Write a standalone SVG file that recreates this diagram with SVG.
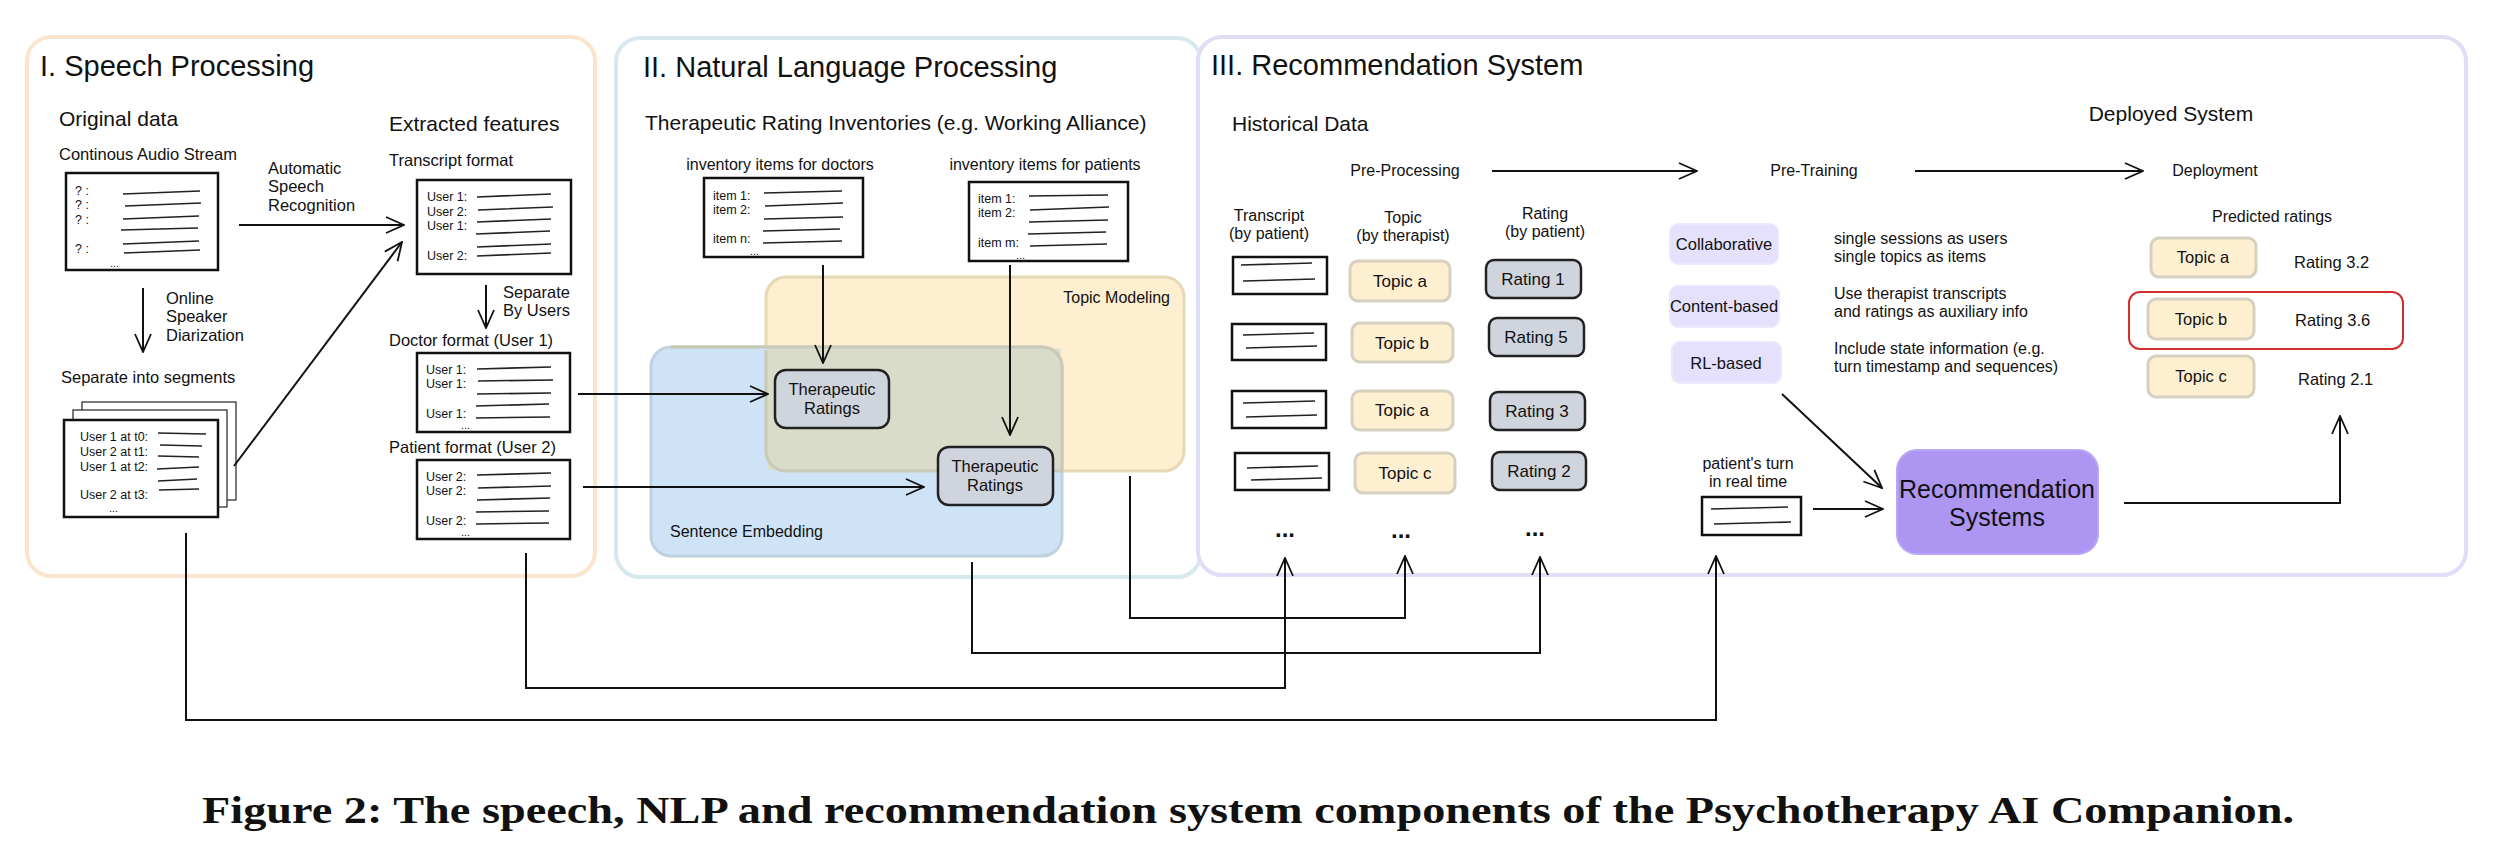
<svg xmlns="http://www.w3.org/2000/svg" width="2498" height="854" viewBox="0 0 2498 854">
<style>
text{font-family:"Liberation Sans",Arial,sans-serif;fill:#111}
.panel{fill:#fff;stroke-width:4}
.doc{fill:#fff;stroke:#111;stroke-width:2.5}
.sk{stroke:#222;stroke-width:1.6;fill:none}
.ca{stroke:#111;stroke-width:2;fill:none;marker-end:url(#ah)}
.topic{fill:#fdefcf;stroke:#d6d0c0;stroke-width:3}
.rate{fill:#d0d4dc;stroke:#222;stroke-width:2.5}
.meth{fill:#e5e0fb;stroke:#ebe7fc;stroke-width:2}
.s13{font-size:12.5px}.s14{font-size:16px}.s15{font-size:16.5px}.s16{font-size:17px}.s20{font-size:21px}.s28{font-size:29px}
.m{text-anchor:middle}
.cap{font-family:"Liberation Serif","Times New Roman",serif;font-weight:bold;font-size:38px}
</style>
<defs>
<marker id="ah" viewBox="0 0 20 20" refX="19" refY="10" markerWidth="20" markerHeight="20" markerUnits="userSpaceOnUse" orient="auto">
<path d="M1,2 L19,10 L1,18" fill="none" stroke="#111" stroke-width="1.8"/>
</marker>
</defs>
<rect width="2498" height="854" fill="#fff"/>

<g id="panel-speech">
<rect class="panel" x="27" y="37" width="568" height="539" rx="24" stroke="#fbe5cc"/>
<text x="40" y="76" class="s28">I. Speech Processing</text>
<text x="59" y="126" class="s20">Original data</text>
<text x="389" y="131" class="s20">Extracted features</text>
<text x="59" y="160" class="s15">Continous Audio Stream</text>
<rect class="doc" x="66" y="173" width="152" height="97"/>
<g class="s13"><text x="75" y="195">? :</text><text x="75" y="209">? :</text><text x="75" y="224">? :</text><text x="75" y="253">? :</text><text x="110" y="267" font-size="11">...</text></g>
<path class="sk" d="M123,194 L200,191 M125,206 L201,203 M123,219 L199,216 M121,230 L198,228 M123,244 L199,241 M124,253 L200,250"/>
<text class="s15" x="268" y="174">Automatic</text><text class="s15" x="268" y="192">Speech</text><text class="s15" x="268" y="211">Recognition</text>
<text class="s15" x="166" y="304">Online</text><text class="s15" x="166" y="322">Speaker</text><text class="s15" x="166" y="341">Diarization</text>
<text x="61" y="383" class="s15">Separate into segments</text>
<rect x="82" y="402" width="154" height="98" fill="#fff" stroke="#333" stroke-width="1.3"/>
<rect x="73" y="410" width="154" height="97" fill="#fff" stroke="#333" stroke-width="1.3"/>
<rect class="doc" x="64" y="420" width="154" height="97"/>
<g class="s13"><text x="80" y="441">User 1 at t0:</text><text x="80" y="456">User 2 at t1:</text><text x="80" y="471">User 1 at t2:</text><text x="80" y="499">User 2 at t3:</text></g>
<text x="109" y="512" font-size="11">...</text>
<path class="sk" d="M158,433 L206,434 M160,445 L202,446 M158,456 L199,457 M157,469 L199,467 M158,481 L197,479 M159,490 L199,489"/>
<text x="389" y="166" class="s15">Transcript format</text>
<rect class="doc" x="417" y="180" width="154" height="94"/>
<g class="s13"><text x="427" y="201">User 1:</text><text x="427" y="216">User 2:</text><text x="427" y="230">User 1:</text><text x="427" y="260">User 2:</text></g>
<path class="sk" d="M477,197 L551,194 M478,210 L553,207 M477,222 L551,219 M476,234 L550,231 M477,247 L551,244 M477,256 L551,253"/>
<text class="s15" x="503" y="298">Separate</text><text class="s15" x="503" y="316">By Users</text>
<text x="389" y="346" class="s15">Doctor format (User 1)</text>
<rect class="doc" x="417" y="353" width="153" height="79"/>
<g class="s13"><text x="426" y="374">User 1:</text><text x="426" y="388">User 1:</text><text x="426" y="418">User 1:</text></g><text x="461" y="429" font-size="11">...</text>
<path class="sk" d="M477,369 L551,367 M478,381 L553,380 M477,394 L551,393 M476,406 L549,404 M476,418 L550,417"/>
<text x="389" y="453" class="s15">Patient format (User 2)</text>
<rect class="doc" x="417" y="460" width="153" height="79"/>
<g class="s13"><text x="426" y="481">User 2:</text><text x="426" y="495">User 2:</text><text x="426" y="525">User 2:</text></g><text x="461" y="536" font-size="11">...</text>
<path class="sk" d="M477,475 L551,473 M478,488 L551,486 M477,500 L550,498 M476,512 L549,511 M476,524 L549,523"/>
</g>

<g id="panel-nlp">
<rect class="panel" x="616" y="38" width="585" height="539" rx="24" stroke="#d7e8ee"/>
<text x="643" y="77" class="s28">II. Natural Language Processing</text>
<text x="645" y="130" class="s20">Therapeutic Rating Inventories (e.g. Working Alliance)</text>
<text x="780" y="170" class="s14 m">inventory items for doctors</text>
<rect class="doc" x="704" y="178" width="159" height="79"/>
<g class="s13"><text x="713" y="200">item 1:</text><text x="713" y="214">item 2:</text><text x="713" y="243">item n:</text></g><text x="750" y="255" font-size="11">...</text>
<path class="sk" d="M764,193 L842,191 M765,206 L843,203 M764,219 L843,217 M763,231 L840,229 M763,243 L842,241"/>
<text x="1045" y="170" class="s14 m">inventory items for patients</text>
<rect class="doc" x="969" y="182" width="159" height="79"/>
<g class="s13"><text x="978" y="203">item 1:</text><text x="978" y="217">item 2:</text><text x="978" y="247">item m:</text></g><text x="1016" y="259" font-size="11">...</text>
<path class="sk" d="M1029,196 L1108,195 M1030,210 L1109,207 M1029,222 L1108,220 M1028,234 L1106,232 M1030,246 L1107,244"/>
</g>

<g id="topic-modeling">
<rect x="766" y="277" width="418" height="194" rx="20" fill="#fdefcf" stroke="#e6d9b5" stroke-width="3"/>
</g>
<g id="sentence-embedding">
<rect x="651" y="347" width="411" height="209" rx="20" fill="#cfe3f7" stroke="#bfd0de" stroke-width="3"/>
<rect x="767.5" y="348.5" width="293" height="121" fill="#d9dcc8"/>
<path d="M766,350 V451 a20,20 0 0 0 20,20 H1062 M671,347 H1042 a20,20 0 0 1 20,20 V471" fill="none" stroke="#c9c9b5" stroke-width="3"/>
<text x="1170" y="303" class="s14" text-anchor="end">Topic Modeling</text>
<text x="670" y="537" class="s14">Sentence Embedding</text>
</g>
<g id="tr1">
<rect class="rate" x="775" y="370" width="114" height="58" rx="11"/>
<text x="832" y="395" class="s15 m">Therapeutic</text><text x="832" y="414" class="s15 m">Ratings</text>
</g>
<g id="tr2">
<rect class="rate" x="938" y="447" width="115" height="58" rx="11"/>
<text x="995" y="472" class="s15 m">Therapeutic</text><text x="995" y="491" class="s15 m">Ratings</text>
</g>

<g id="panel-rec">
<rect class="panel" x="1198" y="37" width="1268" height="538" rx="24" stroke="#e0ddf6"/>
<text x="1211" y="75" class="s28">III. Recommendation System</text>
<text x="1232" y="131" class="s20">Historical Data</text>
<text x="2171" y="121" class="s20 m">Deployed System</text>
<text x="1405" y="176" class="s14 m">Pre-Processing</text>
<text x="1814" y="176" class="s14 m">Pre-Training</text>
<text x="2215" y="176" class="s14 m">Deployment</text>
<g class="s14 m">
<text x="1269" y="221">Transcript</text><text x="1269" y="239">(by patient)</text>
<text x="1403" y="223">Topic</text><text x="1403" y="241">(by therapist)</text>
<text x="1545" y="219">Rating</text><text x="1545" y="237">(by patient)</text>
</g>
<g id="hist-transcripts">
<rect class="doc" x="1233" y="257" width="94" height="37" stroke-width="2"/>
<path class="sk" d="M1241,265 L1312,263 M1243,281 L1315,279"/>
<rect class="doc" x="1232" y="324" width="94" height="36" stroke-width="2"/>
<path class="sk" d="M1243,335 L1314,333 M1246,348 L1317,346"/>
<rect class="doc" x="1232" y="391" width="94" height="37" stroke-width="2"/>
<path class="sk" d="M1243,403 L1315,401 M1246,417 L1317,415"/>
<rect class="doc" x="1235" y="453" width="94" height="37" stroke-width="2"/>
<path class="sk" d="M1247,468 L1318,466 M1251,480 L1322,478"/>
</g>
<g id="hist-topics">
<rect class="topic" x="1350" y="261" width="100" height="40" rx="8"/><text x="1400" y="287" class="s16 m">Topic a</text>
<rect class="topic" x="1352" y="323" width="101" height="39" rx="8"/><text x="1402" y="349" class="s16 m">Topic b</text>
<rect class="topic" x="1352" y="391" width="101" height="39" rx="8"/><text x="1402" y="416" class="s16 m">Topic a</text>
<rect class="topic" x="1355" y="453" width="100" height="40" rx="8"/><text x="1405" y="479" class="s16 m">Topic c</text>
</g>
<g id="hist-ratings">
<rect class="rate" x="1486" y="260" width="95" height="38" rx="8"/><text x="1533" y="285" class="s16 m">Rating 1</text>
<rect class="rate" x="1489" y="318" width="95" height="38" rx="8"/><text x="1536" y="343" class="s16 m">Rating 5</text>
<rect class="rate" x="1490" y="392" width="95" height="38" rx="8"/><text x="1537" y="417" class="s16 m">Rating 3</text>
<rect class="rate" x="1492" y="452" width="94" height="38" rx="8"/><text x="1539" y="477" class="s16 m">Rating 2</text>
</g>
<g font-size="24" font-weight="bold" class="m"><text x="1285" y="537">...</text><text x="1401" y="538">...</text><text x="1535" y="536">...</text></g>
<g id="methods">
<rect class="meth" x="1670" y="224" width="108" height="40" rx="8"/><text x="1724" y="250" class="s15 m">Collaborative</text>
<rect class="meth" x="1670" y="286" width="109" height="41" rx="8"/><text x="1724" y="312" class="s15 m">Content-based</text>
<rect class="meth" x="1672" y="342" width="109" height="41" rx="8"/><text x="1726" y="369" class="s15 m">RL-based</text>
<g class="s14"><text x="1834" y="244">single sessions as users</text><text x="1834" y="262">single topics as items</text>
<text x="1834" y="299">Use therapist transcripts</text><text x="1834" y="317">and ratings as auxiliary info</text>
<text x="1834" y="354">Include state information (e.g.</text><text x="1834" y="372">turn timestamp and sequences)</text></g>
</g>
<g id="predicted">
<text x="2272" y="222" class="s14 m">Predicted ratings</text>
<rect class="topic" x="2151" y="238" width="105" height="39" rx="8"/><text x="2203" y="263" class="s15 m">Topic a</text>
<text x="2294" y="268" class="s15">Rating 3.2</text>
<rect x="2129" y="292" width="274" height="57" rx="11" fill="none" stroke="#d32f2f" stroke-width="2"/>
<rect class="topic" x="2148" y="299" width="106" height="40" rx="8"/><text x="2201" y="325" class="s15 m">Topic b</text>
<text x="2295" y="326" class="s15">Rating 3.6</text>
<rect class="topic" x="2148" y="356" width="106" height="41" rx="8"/><text x="2201" y="382" class="s15 m">Topic c</text>
<text x="2298" y="385" class="s15">Rating 2.1</text>
</g>
<g id="realtime">
<text x="1748" y="469" class="s14 m">patient's turn</text><text x="1748" y="487" class="s14 m">in real time</text>
<rect class="doc" x="1702" y="497" width="99" height="38" stroke-width="2"/>
<path class="sk" d="M1711,509 L1788,507 M1714,524 L1791,522"/>
</g>
<g id="recsys">
<rect x="1897" y="450" width="201" height="104" rx="20" fill="#ad96f2" stroke="#b9a6f4" stroke-width="2"/>
<text x="1997" y="498" font-size="25" class="m">Recommendation</text>
<text x="1997" y="526" font-size="25" class="m">Systems</text>
</g>
</g>

<g id="connectors">
<line class="ca" x1="239" y1="225" x2="404" y2="225"/>
<line class="ca" x1="143" y1="288" x2="143" y2="352"/>
<line class="ca" x1="234" y1="466" x2="402" y2="242"/>
<line class="ca" x1="486" y1="285" x2="486" y2="328"/>
<line class="ca" x1="578" y1="394" x2="768" y2="394"/>
<line class="ca" x1="583" y1="487" x2="924" y2="487"/>
<line class="ca" x1="823" y1="265" x2="823" y2="363"/>
<line class="ca" x1="1010" y1="265" x2="1010" y2="435"/>
<line class="ca" x1="1492" y1="171" x2="1697" y2="171"/>
<line class="ca" x1="1915" y1="171" x2="2143" y2="171"/>
<polyline class="ca" points="186,533 186,720 1716,720 1716,556"/>
<polyline class="ca" points="526,553 526,688 1285,688 1285,558"/>
<polyline class="ca" points="972,562 972,653 1540,653 1540,557"/>
<polyline class="ca" points="1130,476 1130,618 1405,618 1405,556"/>
<line class="ca" x1="1813" y1="509" x2="1883" y2="509"/>
<line class="ca" x1="1782" y1="394" x2="1882" y2="488"/>
<polyline class="ca" points="2124,503 2340,503 2340,416"/>
</g>

<text x="1248" y="823" class="cap" text-anchor="middle" textLength="2092" lengthAdjust="spacingAndGlyphs">Figure 2: The speech, NLP and recommendation system components of the Psychotherapy AI Companion.</text>
</svg>
